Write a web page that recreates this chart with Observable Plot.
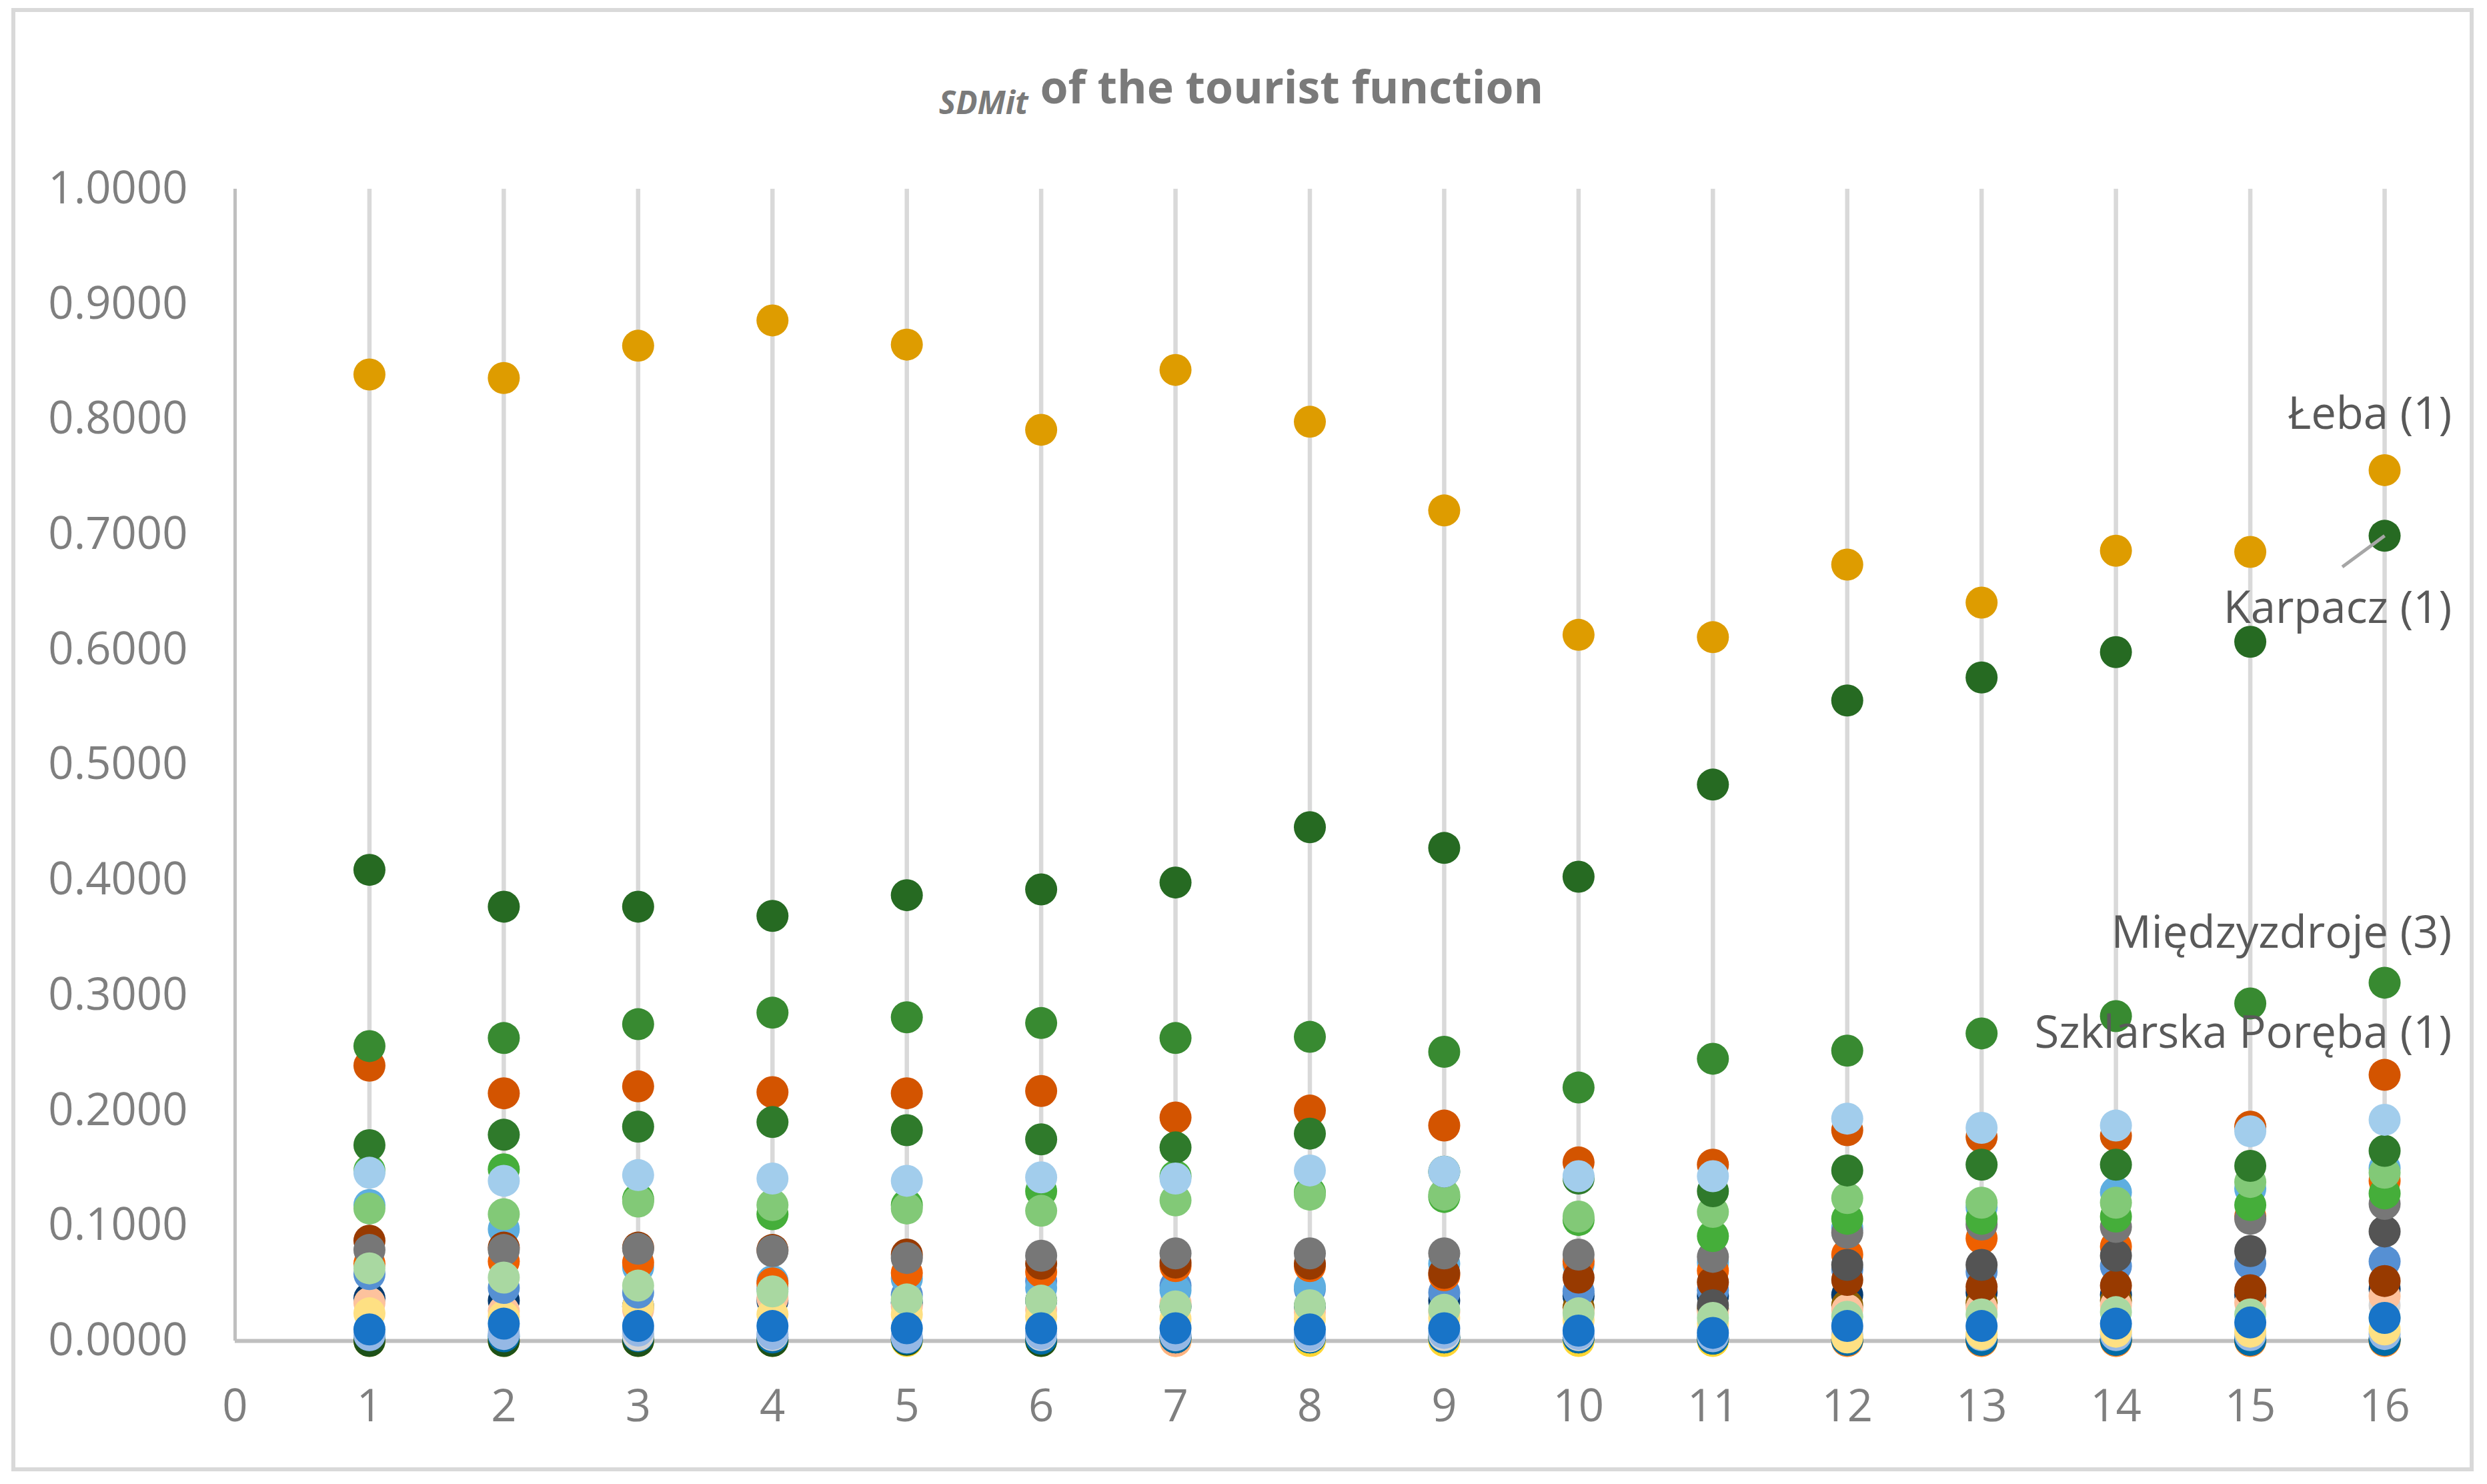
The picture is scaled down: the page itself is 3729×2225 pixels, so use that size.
<!DOCTYPE html>
<html>
<head>
<meta charset="utf-8">
<script src="https://cdn.jsdelivr.net/npm/d3@7"></script>
<script src="https://cdn.jsdelivr.net/npm/@observablehq/plot@0.6"></script>
<style>
  html, body { margin: 0; padding: 0; background: #fff; }
  #wrap { position: relative; width: 3729px; height: 2225px; overflow: hidden; background: #fff; }
  #frame { position: absolute; left: 17px; top: 12px; width: 3692px; height: 2194px; box-sizing: border-box; border: 6px solid #d9d9d9; }
  #title { position: absolute; left: 0; top: 95px; width: 3722px; text-align: center; font-family: "Open Sans", sans-serif; font-weight: 700; font-size: 68px; line-height: 68px; color: #7a7a7a; z-index: 2; white-space: nowrap; }
  #title .sub { font-size: 48px; font-style: italic; vertical-align: -16px; }
  #chart { position: absolute; left: 0; top: 0; z-index: 1; }
</style>
</head>
<body>
<div id="wrap">
  <div id="frame"></div>
  <div id="title"><span class="sub">SDMit</span> of the tourist function</div>
  <div id="chart"></div>
</div>
<script>
// ---- data ----
const years = [1, 2, 3, 4, 5, 6, 7, 8, 9, 10, 11, 12, 13, 14, 15, 16];
const xTicks = [0, 1, 2, 3, 4, 5, 6, 7, 8, 9, 10, 11, 12, 13, 14, 15, 16];
const yTicks = [0, 0.1, 0.2, 0.3, 0.4, 0.5, 0.6, 0.7, 0.8, 0.9, 1.0];

// series in drawing order (first drawn at the bottom)
const seriesNames = [
  "s01", "s02", "s03", "s04", "s05", "s06", "s07", "s08", "s09", "s10",
  "s11", "s12", "s13", "s14", "s15", "s16", "s17", "s18", "s19",
  "Szklarska Poręba", "s21", "s22", "s23", "s24",
  "Międzyzdroje", "Karpacz", "Łeba"
];
const seriesColors = [
  "#FFD634", "#FFB284", "#FF8433", "#1D5119", "#006BA6", "#D4D4D4", "#95B8E5", "#033A6E", "#8A5E00", "#FDC29D",
  "#FEE083", "#5690D3", "#5EAEE0", "#EE6000", "#983A00", "#545454", "#777777", "#45AE3A", "#82C977",
  "#D35400", "#2F7A2B", "#A2CDEC", "#A9D8A1", "#1874C8",
  "#388A31", "#266A22", "#DE9C00"
];
const seriesValues = [
  [0, 0, 0, 0, 0, 0, 0, 0, 0, 0, 0, 0, 0, 0, 0, 0],
  [null, null, null, null, null, null, 0, null, null, null, null, null, null, null, null, null],
  [null, null, null, null, null, null, null, null, null, null, null, 0, 0, 0, 0, 0],
  [0.000, 0.000, 0.000, 0.000, 0.001, 0.000, 0.003, 0.003, 0.003, 0.003, 0.002, 0.001, 0.001, 0.001, 0.001, 0.001],
  [0.005, 0.004, 0.004, 0.003, 0.002, 0.002, 0.003, 0.003, 0.003, 0.003, 0.002, 0.001, 0.001, 0.001, 0.001, 0.001],
  [0.007, 0.010, 0.005, 0.005, 0.004, 0.005, 0.005, 0.004, 0.005, 0.005, 0.010, 0.010, 0.012, 0.010, 0.012, 0.031],
  [0.005, 0.006, 0.009, 0.006, 0.003, 0.006, 0.005, 0.005, 0.007, 0.006, 0.004, 0.005, 0.005, 0.005, 0.005, 0.006],
  [0.037, 0.035, 0.030, 0.035, 0.033, 0.035, 0.030, 0.030, 0.035, 0.039, 0.039, 0.040, 0.042, 0.040, 0.040, 0.045],
  [null, null, null, null, null, null, null, null, null, 0.029, 0.028, 0.031, 0.033, 0.035, null, null],
  [0.033, 0.026, 0.027, 0.037, 0.030, 0.027, 0.033, 0.025, 0.025, 0.025, 0.025, 0.027, 0.029, 0.031, 0.033, 0.039],
  [0.024, 0.021, 0.030, 0.023, 0.023, 0.021, 0.019, 0.019, 0.020, 0.018, 0.015, 0.003, 0.006, 0.008, 0.008, 0.010],
  [0.058, 0.046, 0.042, 0.045, 0.040, 0.052, 0.048, 0.045, 0.042, 0.043, 0.044, 0.062, 0.060, 0.065, 0.067, 0.069],
  [0.118, 0.097, 0.064, 0.052, 0.054, 0.046, 0.044, 0.047, 0.067, 0.066, 0.068, 0.098, 0.116, 0.129, 0.132, 0.150],
  [0.067, 0.069, 0.068, 0.050, 0.059, 0.060, 0.065, 0.065, 0.057, 0.069, 0.061, 0.075, 0.089, 0.082, 0.108, 0.139],
  [0.087, 0.081, 0.081, 0.079, 0.075, 0.067, 0.068, 0.067, 0.059, 0.055, 0.051, 0.053, 0.047, 0.048, 0.044, 0.052],
  [null, null, null, null, null, null, null, null, null, null, 0.031, 0.066, 0.066, 0.074, 0.078, 0.095],
  [0.079, 0.079, 0.080, 0.078, 0.072, 0.074, 0.076, 0.076, 0.076, 0.075, 0.073, 0.094, 0.101, 0.099, 0.106, 0.119],
  [0.148, 0.149, 0.123, 0.110, 0.118, 0.130, 0.143, 0.129, 0.125, 0.105, 0.091, 0.106, 0.106, 0.108, 0.118, 0.128],
  [0.115, 0.110, 0.121, 0.118, 0.115, 0.113, 0.122, 0.127, 0.127, 0.108, 0.112, 0.124, 0.120, 0.120, 0.138, 0.146],
  [0.239, 0.215, 0.221, 0.216, 0.215, 0.217, 0.194, 0.200, 0.187, 0.155, 0.153, 0.183, 0.177, 0.178, 0.186, 0.231],
  [0.170, 0.179, 0.186, 0.190, 0.183, 0.175, 0.168, 0.180, 0.147, 0.141, 0.130, 0.148, 0.153, 0.153, 0.152, 0.165],
  [0.146, 0.139, 0.144, 0.141, 0.139, 0.142, 0.141, 0.148, 0.147, 0.143, 0.143, 0.193, 0.185, 0.187, 0.182, 0.192],
  [0.063, 0.055, 0.048, 0.043, 0.036, 0.035, 0.030, 0.031, 0.027, 0.024, 0.020, 0.021, 0.023, 0.025, 0.023, 0.020],
  [0.010, 0.015, 0.013, 0.013, 0.011, 0.011, 0.011, 0.010, 0.011, 0.009, 0.007, 0.013, 0.013, 0.015, 0.016, 0.020],
  [0.256, 0.263, 0.275, 0.285, 0.281, 0.276, 0.263, 0.264, 0.251, 0.220, 0.245, 0.252, 0.267, 0.282, 0.293, 0.311],
  [0.409, 0.377, 0.377, 0.369, 0.387, 0.392, 0.398, 0.446, 0.428, 0.403, 0.483, 0.556, 0.576, 0.598, 0.607, 0.699],
  [0.839, 0.836, 0.864, 0.886, 0.865, 0.791, 0.843, 0.798, 0.721, 0.613, 0.611, 0.674, 0.641, 0.686, 0.685, 0.756]
];

// data labels (text, vertical position in data units)
const labelTexts = ["Łeba (1)", "Karpacz (1)", "Międzyzdroje (3)", "Szklarska Poręba (1)"];
const labelY = [0.804, 0.636, 0.354, 0.267];
const labelX = 16.5;
// leader line for Karpacz label: start point, ends at Karpacz's last value
const leaderStart = {x: 15.685, y: 0.672};

// ---- build ----
const font = "'Open Sans', sans-serif";
const dotMarks = seriesValues.map((vals, i) =>
  Plot.dot(years.map((x, j) => ({x, y: vals[j]})), {
    x: "x", y: "y", r: 24, fill: seriesColors[i], stroke: "none"
  })
);
const karpIdx = seriesNames.indexOf("Karpacz");
const leader = [{x1: leaderStart.x, y1: leaderStart.y, x2: years[years.length - 1], y2: seriesValues[karpIdx][years.length - 1]}];
const labels = labelTexts.map((t, i) => ({t, x: labelX, y: labelY[i]}));

const chart = Plot.plot({
  width: 3729,
  height: 2225,
  marginLeft: 352,
  marginRight: 154,
  marginTop: 283,
  marginBottom: 215,
  style: {fontFamily: font, fontSize: "67px", background: "transparent", overflow: "visible"},
  x: {domain: [0, 16], label: null},
  y: {domain: [0, 1], label: null},
  marks: [
    Plot.ruleX(years, {stroke: "#d9d9d9", strokeWidth: 6.5}),
    Plot.ruleX([0], {stroke: "#bfbfbf", strokeWidth: 5}),
    Plot.ruleY([0], {stroke: "#bfbfbf", strokeWidth: 6}),
    Plot.axisY(yTicks, {tickSize: 0, tickPadding: 71, tickFormat: d3.format(".4f"), fontSize: 67, fill: "#7f7f7f", label: null}),
    Plot.axisX(xTicks, {tickSize: 0, tickPadding: 73, tickFormat: d3.format("d"), fontSize: 67, fill: "#7f7f7f", label: null}),
    ...dotMarks,
    Plot.link(leader, {x1: "x1", y1: "y1", x2: "x2", y2: "y2", stroke: "#a6a6a6", strokeWidth: 5}),
    Plot.text(labels, {x: "x", y: "y", text: "t", textAnchor: "end", fontSize: 67, fill: "#595959", fontFamily: font})
  ]
});
document.getElementById("chart").appendChild(chart);
</script>
</body>
</html>
